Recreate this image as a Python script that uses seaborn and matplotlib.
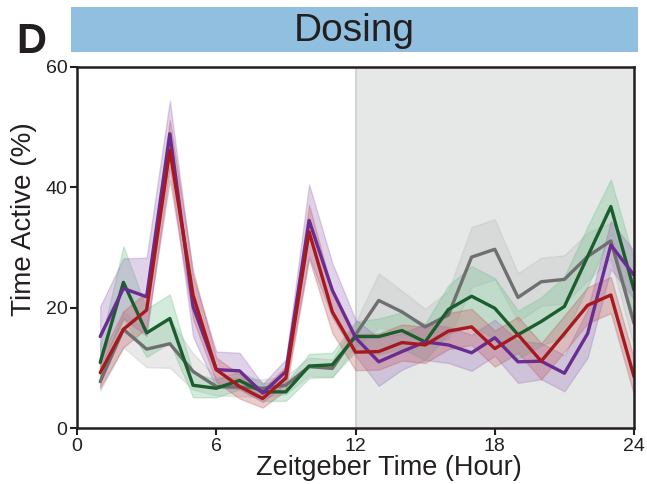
import numpy as np
import pandas as pd
import matplotlib
matplotlib.use("Agg")
import matplotlib.pyplot as plt
import seaborn as sns

# hourly means (%), ZT 1..24
hours = list(range(1, 25))
gray_mean = [7.7, 16.4, 13.1, 14.0, 9.4, 6.9, 6.8, 6.6, 7.1, 10.2, 9.9, 15.5,
             21.2, 19.3, 16.8, 18.8, 28.4, 29.7, 21.7, 24.3, 24.7, 28.5, 31.1, 17.4]
green_mean = [10.9, 24.2, 15.8, 18.2, 7.1, 6.6, 7.9, 6.0, 6.0, 10.3, 10.5, 15.2,
              15.2, 16.2, 14.3, 19.7, 21.9, 19.9, 15.5, 17.7, 20.2, 28.5, 36.8, 22.9]
purple_mean = [15.2, 23.2, 21.8, 48.9, 20.2, 9.7, 9.5, 5.8, 9.4, 34.5, 22.9, 15.0,
               11.0, 12.7, 14.3, 13.8, 12.5, 15.0, 11.0, 11.1, 9.1, 15.7, 30.4, 25.4]
red_mean = [9.2, 16.4, 19.6, 46.2, 22.1, 9.7, 6.9, 4.9, 8.3, 32.6, 19.3, 12.6,
            12.7, 14.2, 13.8, 16.1, 16.8, 13.2, 15.5, 11.1, 15.7, 20.4, 22.1, 8.5]

# error band half-widths
gray_err = [1.5, 3, 3, 4, 3, 1.5, 1.5, 1.5, 1.5, 1.5, 1.5, 2,
            4.5, 3.5, 3, 4, 5, 5, 4, 4, 4, 4, 3, 4]
green_err = [3, 6, 4, 4, 2, 1.5, 1.5, 1.5, 1.5, 2, 2, 2.5,
             3, 3, 3, 4, 5, 5, 4, 4, 5, 5, 4.5, 5]
purple_err = [5, 5, 6.5, 5.5, 5, 3, 3, 1.5, 2, 6, 4.5, 3,
              4, 3, 3, 3, 3, 3, 3.5, 3, 3, 4, 4, 4]
red_err = [2.5, 3, 3, 5, 4, 2, 2, 1.5, 2, 4.5, 3.5, 3,
           3, 3, 3, 3, 3, 3, 3, 3, 3, 3, 3, 3]

groups = ["gray", "green", "purple", "red"]
colors = {"gray": "#6f6f71", "green": "#1b5e2e", "purple": "#6a2c91", "red": "#a6191f"}
means = {"gray": gray_mean, "green": green_mean, "purple": purple_mean, "red": red_mean}
errs = {"gray": gray_err, "green": green_err, "purple": purple_err, "red": red_err}
band_colors = {"gray": "#b8b8b8", "green": "#6cc08a", "purple": "#9b6fb8", "red": "#c0575c"}

df = pd.concat([pd.DataFrame({"zt": hours, "active": means[g], "group": g}) for g in groups])

sns.set_style("ticks")
plt.rcParams["font.family"] = ["Liberation Sans", "DejaVu Sans"]

fig = plt.figure(figsize=(6.47, 4.84), dpi=100)
ax = fig.add_axes([0.119, 0.1157, 0.861, 0.746])

ax.axvspan(12, 24, color="#e6e8e8", lw=0, zorder=0)
ax.axvline(12, color="#d2d4d4", lw=1.5, zorder=0.5)

for g in groups:
    m = np.array(means[g])
    e = np.array(errs[g])
    ax.fill_between(hours, m - e, m + e, color=band_colors[g], alpha=0.3,
                    edgecolor=band_colors[g], linewidth=1, zorder=1)

sns.lineplot(data=df, x="zt", y="active", hue="group", hue_order=groups,
             palette=colors, linewidth=2.4, legend=False, ax=ax, zorder=2)

ax.set_xlim(0, 24)
ax.set_ylim(0, 60)
ax.set_xticks([0, 6, 12, 18, 24])
ax.set_yticks([0, 20, 40, 60])
ax.tick_params(labelsize=14, width=1.5, length=5, color="#231f20", labelcolor="#231f20", pad=2)
for s in ax.spines.values():
    s.set_linewidth(1.8)
    s.set_color("#231f20")
ax.set_xlabel("Zeitgeber Time (Hour)", fontsize=19.5, color="#231f20")
ax.xaxis.set_label_coords(0.56, -0.130, transform=ax.transAxes)
ax.xaxis.label.set_va("baseline")
ax.set_ylabel("Time Active (%)", fontsize=20, color="#231f20")
ax.yaxis.set_label_coords(-0.072, 0.579, transform=ax.transAxes)

# header bar
hax = fig.add_axes([0.1097, 0.8926, 0.8764, 0.093])
hax.set_facecolor("#90bfdf")
hax.set_xticks([])
hax.set_yticks([])
for s in hax.spines.values():
    s.set_visible(False)
hax.text(0.5, 0.244, "Dosing", ha="center", va="baseline", fontsize=28, color="#231f20",
         transform=hax.transAxes)

fig.text(0.025, 0.8905, "D", fontsize=30, fontweight="bold", color="#231f20", va="baseline")

fig.savefig("out.png", dpi=100)
